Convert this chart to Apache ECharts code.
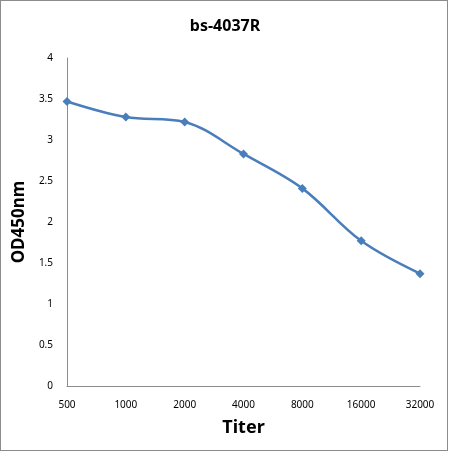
<!DOCTYPE html>
<html>
<head>
<meta charset="utf-8">
<script src="https://cdn.jsdelivr.net/npm/echarts@6/dist/echarts.min.js"></script>
<style>
html,body{margin:0;padding:0;background:#fff;}
#frame{position:absolute;left:0;top:0;width:446px;height:449px;border:1px solid #8c8c8c;box-sizing:content-box;}
#chart{position:absolute;left:0;top:0;width:450px;height:452px;}
</style>
</head>
<body>
<div id="frame"></div>
<div id="chart"></div>
<script>
const titleText = 'bs-4037R';
const categories = ['500', '1000', '2000', '4000', '8000', '16000', '32000'];
const odValues = [3.47, 3.28, 3.22, 2.83, 2.41, 1.77, 1.37];
const yTicks = [0, 0.5, 1, 1.5, 2, 2.5, 3, 3.5, 4];

const chart = echarts.init(document.getElementById('chart'), null, {renderer: 'canvas'});
const fontFam = '"Noto Sans", "DejaVu Sans", sans-serif';
chart.setOption({
  animation: false,
  backgroundColor: 'transparent',
  title: {
    text: titleText,
    left: 'center',
    top: 13,
    textStyle: {fontFamily: fontFam, fontSize: 16, fontWeight: 'bold', color: '#000'}
  },
  grid: {left: 67, right: 30, top: 58, bottom: 66},
  xAxis: {
    type: 'category',
    data: categories,
    boundaryGap: false,
    name: 'Titer',
    nameLocation: 'middle',
    nameGap: 33,
    nameTextStyle: {fontFamily: fontFam, fontSize: 18, fontWeight: 'bold', color: '#000'},
    axisLine: {lineStyle: {color: '#8c8c8c', width: 1}},
    axisTick: {show: false},
    axisLabel: {fontFamily: fontFam, fontSize: 10, color: '#000', margin: 14}
  },
  yAxis: {
    type: 'value',
    min: 0,
    max: 4,
    interval: 0.5,
    name: 'OD450nm',
    nameLocation: 'middle',
    nameGap: 36,
    nameTextStyle: {fontFamily: fontFam, fontSize: 17, fontWeight: 'bold', color: '#000'},
    axisLine: {show: true, lineStyle: {color: '#8c8c8c', width: 1}},
    axisTick: {show: false},
    splitLine: {show: false},
    axisLabel: {fontFamily: fontFam, fontSize: 10, color: '#000', margin: 14,
      formatter: v => String(v)}
  },
  series: [{
    type: 'line',
    data: odValues,
    smooth: 0.35,
    symbol: 'diamond',
    symbolSize: 9,
    lineStyle: {color: '#4a7ebb', width: 2.5},
    itemStyle: {color: '#4a7ebb'}
  }]
});
</script>
</body>
</html>
